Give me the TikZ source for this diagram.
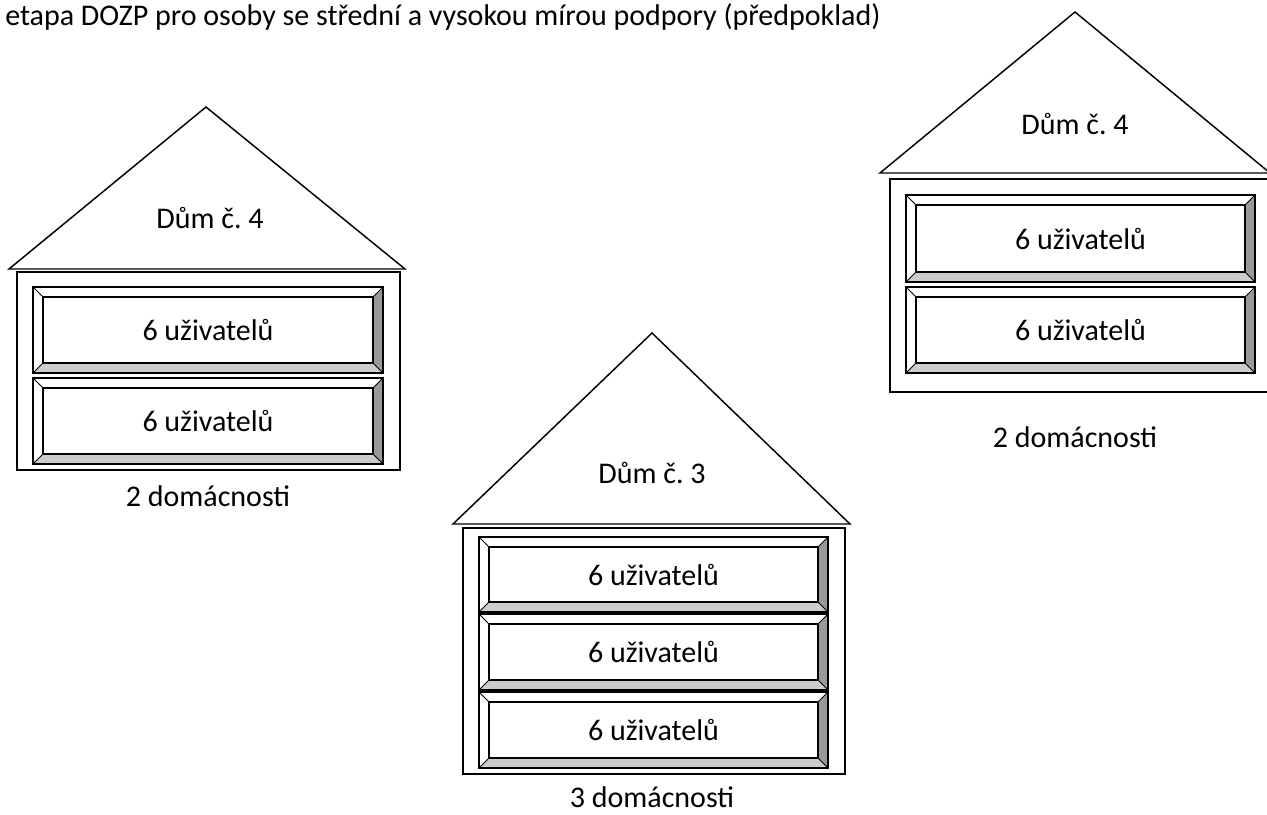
\documentclass[tikz,border=0pt]{standalone}
\usepackage{fontspec}
\setmainfont{Carlito}
\frenchspacing
\definecolor{bevlight}{HTML}{CCCCCC}
\definecolor{bevdark}{HTML}{999999}
\newcommand\bevbox[6]{%
  % #1 name, (#2,#3) top-left, (#4,#5) bottom-right, #6 text
  \fill[bevlight] (#2,#5) -- (#4,#5) -- ({#4-10},{#5-10}) -- ({#2+10},{#5-10}) -- cycle;
  \fill[bevdark] (#4,#3) -- (#4,#5) -- ({#4-10},{#5-10}) -- ({#4-10},{#3+10}) -- cycle;
  \draw[thin line] (#2,#3) -- ({#2+10},{#3+10}) (#4,#3) -- ({#4-10},{#3+10})
        (#2,#5) -- ({#2+10},{#5-10}) (#4,#5) -- ({#4-10},{#5-10});
  \draw[mid line] ({#2+10},{#3+10}) rectangle ({#4-10},{#5-10});
  \draw[thick line] (#2,#3) rectangle (#4,#5);
  \node[lbl] (#1) at ({(#2+#4)/2},{(#3+#5)/2}) {#6};
}
\begin{document}
\begin{tikzpicture}[x=0.75pt,y=-0.75pt,
  thin line/.style={line width=0.6pt,line join=miter},
  mid line/.style={line width=0.9pt,line join=miter},
  thick line/.style={line width=1.4pt,line join=miter},
  house/.style={line width=1.1pt,line join=miter},
  lbl/.style={font=\fontsize{22.5}{27}\selectfont,inner sep=0pt}]
\useasboundingbox (0,0) rectangle (1267,814);
\clip (0,0) rectangle (1267,814);

\node[lbl,anchor=west] (title) at (5,17) {etapa DOZP pro osoby se střední a vysokou mírou podpory (předpoklad)};

% house 1 (left)
\draw[house] (9,269) -- (206,107) -- (405,269) -- cycle;
\draw[house] (17,272) rectangle (400,470);
\node[lbl] (roofA) at (210,218) {Dům č. 4};
\bevbox{a1}{33}{287}{383}{373}{6 uživatelů}
\bevbox{a2}{33}{378}{383}{464}{6 uživatelů}
\node[lbl] (capA) at (208,496) {2 domácnosti};

% house 2 (middle)
\draw[house] (453,524) -- (652,333) -- (850,524) -- cycle;
\draw[house] (463,528) rectangle (845,774);
\node[lbl] (roofB) at (652,473) {Dům č. 3};
\bevbox{b1}{479}{537}{828}{612}{6 uživatelů}
\bevbox{b2}{479}{614}{828}{690}{6 uživatelů}
\bevbox{b3}{479}{692}{828}{768}{6 uživatelů}
\node[lbl] (capB) at (652,797) {3 domácnosti};

% house 3 (right)
\draw[house] (880,173) -- (1075,12) -- (1270,173) -- cycle;
\draw[house] (890,179) rectangle (1273,392);
\node[lbl] (roofC) at (1075,124) {Dům č. 4};
\bevbox{c1}{906}{195}{1255}{282}{6 uživatelů}
\bevbox{c2}{906}{287}{1255}{373}{6 uživatelů}
\node[lbl] (capC) at (1075,437) {2 domácnosti};
\end{tikzpicture}
\end{document}
